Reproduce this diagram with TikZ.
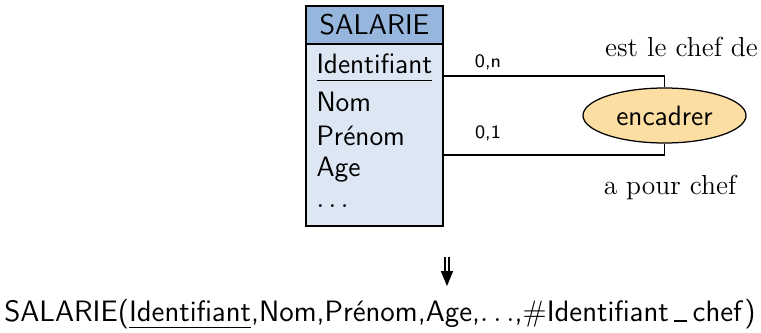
\documentclass[tikz,border=0pt]{standalone}
\usetikzlibrary{shapes.geometric,arrows.meta}
\definecolor{hdrblue}{RGB}{150,182,222}
\definecolor{bodyblue}{RGB}{221,231,244}
\definecolor{assocfill}{RGB}{252,222,162}
\newcommand{\myus}{\kern.18em\rule[-.05ex]{.45em}{.07em}\kern.18em}
\newcommand{\myul}[1]{\underline{#1\rule[-1.1pt]{0pt}{0pt}}}
\begin{document}
\begin{tikzpicture}[x=0.4pt,y=-0.4pt,
  attr/.style={anchor=west,inner sep=0pt,font=\sffamily\fontsize{11.2}{13}\selectfont},
  card/.style={inner sep=0pt,font=\sffamily\fontsize{7.6}{9}\selectfont},
  role/.style={inner sep=0pt,font=\rmfamily\fontsize{11}{13}\selectfont},
  link/.style={draw=black,line width=0.5pt}]
\useasboundingbox (0,0) rectangle (761,333);
% entity
\fill[bodyblue] (306,44) rectangle (443,226);
\fill[hdrblue] (306,6) rectangle (443,44);
\draw[line width=0.5pt] (306,6) rectangle (443,226);
\draw[line width=0.5pt] (306,44) -- (443,44);
\coordinate (entE1) at (443,76);
\coordinate (entE2) at (443,155);
\node[inner sep=0pt,font=\sffamily\fontsize{11.4}{13}\selectfont] (ent) at (374.5,25) {SALARIE};
\node[attr] (a1) at (316,68) {\myul{Identifiant}};
\node[attr] (a2) at (316,102) {Nom};
\node[attr] (a3) at (316,136) {Prénom};
\node[attr] (a4) at (316,170) {Age};
\node[attr] (a5) at (316,206) {$\ldots$};
% association
\node[ellipse,draw,line width=0.5pt,fill=assocfill,minimum width=163*0.4pt,minimum height=55*0.4pt,inner sep=0pt,
  font=\sffamily\fontsize{11.2}{13}\selectfont] (rel) at (664.5,115.5) {encadrer};
\draw[link] (entE1) -| (rel.north);
\draw[link] (entE2) -| (rel.south);
\node[card] (c1) at (488,62) {0,n};
\node[card] (c2) at (488,133) {0,1};
\node[role] (r1) at (681.5,47) {est le chef de};
\node[role] (r2) at (670,187) {a pour chef};
% arrow
\coordinate (arrS) at (447,257);
\coordinate (arrM) at (447,271);
\coordinate (arrT) at (447,286);
\draw[line width=0.9pt] ([xshift=-0.9pt]arrS) -- ([xshift=-0.9pt]arrM);
\draw[line width=0.9pt] ([xshift=0.9pt]arrS) -- ([xshift=0.9pt]arrM);
\fill ([xshift=-2.5pt]arrM) -- ([xshift=2.5pt]arrM) -- (arrT) -- cycle;
% relation
\node[inner sep=0pt,anchor=base,font=\sffamily\fontsize{11.8}{14}\selectfont] (relat) at (380,321)
  {SALARIE(\myul{Identifiant},Nom,Prénom,Age,$\ldots$,{\rmfamily\#}Identifiant\myus chef)};
\end{tikzpicture}
\end{document}
